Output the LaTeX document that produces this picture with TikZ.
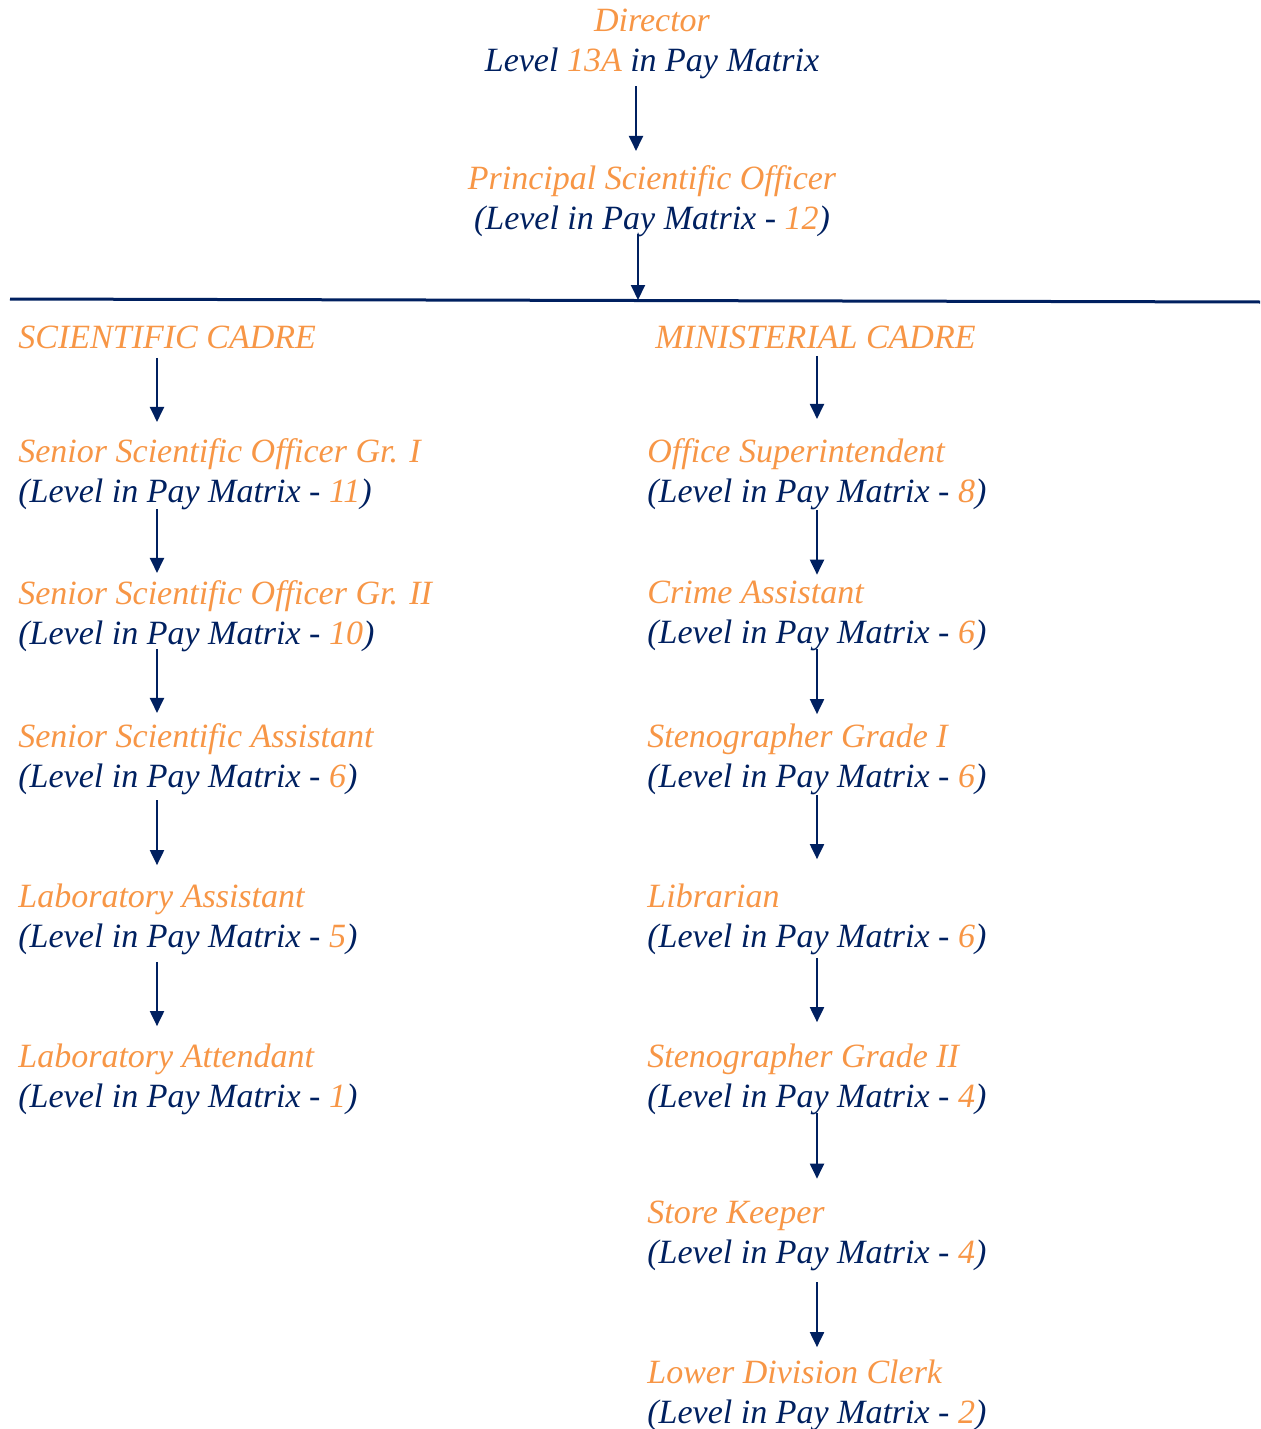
\documentclass[tikz,border=0pt]{standalone}
\usepackage{fontspec}
\setmainfont{Liberation Serif}
\usetikzlibrary{calc,arrows.meta}
\definecolor{org}{HTML}{F79646}
\definecolor{nvy}{HTML}{002060}
\newcommand\lvpm[1]{(Level in Pay Matrix - \textcolor{org}{#1})}
\newcommand\ttl[1]{\textcolor{org}{#1}}
\begin{document}
\begin{tikzpicture}[x=0.5pt,y=-0.5pt,
 lbl/.style={inner sep=0pt, anchor=west, align=left, font=\fontsize{17}{20}\selectfont\itshape, text=nvy},
 ctr/.style={lbl, anchor=center, align=center},
 arr/.style={draw=nvy, line width=1pt, -{Triangle[length=7.5pt,width=7pt]}}]
\useasboundingbox (0,0) rectangle (1260,1429);
% top
\node[ctr] (dir) at (652,44) {\ttl{Director}\\Level \ttl{13A} in Pay Matrix};
\node[ctr] (pso) at (652,201) {\ttl{Principal Scientific Officer}\\\lvpm{12}};
\coordinate (hlA) at (10,299);
\coordinate (hlB) at (1260,302);
\draw[nvy, line width=1.5pt] (hlA) -- (hlB);
\coordinate (hlM) at (638,300);
\coordinate (tc) at (636,0);
\coordinate (tc2) at (638,0);
\coordinate (cl) at (157,0);
\coordinate (cr) at (817,0);
% left column
\node[lbl] (sc) at (18,337) {\ttl{SCIENTIFIC CADRE}};
\node[lbl] (l1) at (18,474) {\ttl{Senior Scientific Officer Gr. I}\\\lvpm{11}};
\node[lbl] (l2) at (18,616) {\ttl{Senior Scientific Officer Gr. II}\\\lvpm{10}};
\node[lbl] (l3) at (18,759) {\ttl{Senior Scientific Assistant}\\\lvpm{6}};
\node[lbl] (l4) at (18,919) {\ttl{Laboratory Assistant}\\\lvpm{5}};
\node[lbl] (l5) at (18,1079) {\ttl{Laboratory Attendant}\\\lvpm{1}};
% right column
\node[lbl] (mc) at (655,337) {\ttl{MINISTERIAL CADRE}};
\node[lbl] (r1) at (647,474) {\ttl{Office Superintendent}\\\lvpm{8}};
\node[lbl] (r2) at (647,616) {\ttl{Crime Assistant}\\\lvpm{6}};
\node[lbl] (r3) at (647,759) {\ttl{Stenographer Grade I}\\\lvpm{6}};
\node[lbl] (r4) at (647,919) {\ttl{Librarian}\\\lvpm{6}};
\node[lbl] (r5) at (647,1079) {\ttl{Stenographer Grade II}\\\lvpm{4}};
\node[lbl] (r6) at (647,1236) {\ttl{Store Keeper}\\\lvpm{4}};
\node[lbl] (r7) at (647,1395) {\ttl{Lower Division Clerk}\\\lvpm{2}};
% arrows
\draw[arr] ($(tc |- dir.south)+(0,7)$) -- ($(tc |- pso.north)+(0,-14)$);
\draw[arr] ($(tc2 |- pso.south)+(0,-3)$) -- (hlM);
\draw[arr] ($(cl |- sc.south)+(0,9)$) -- ($(cl |- l1.north)+(0,-16)$);
\draw[arr] ($(cl |- l1.south)+(0,-1)$) -- ($(cl |- l2.north)+(0,-7)$);
\draw[arr] ($(cl |- l2.south)+(0,-3)$) -- ($(cl |- l3.north)+(0,-10)$);
\draw[arr] ($(cl |- l3.south)+(0,5)$) -- ($(cl |- l4.north)+(0,-18)$);
\draw[arr] ($(cl |- l4.south)+(0,7)$) -- ($(cl |- l5.north)+(0,-17)$);
\draw[arr] ($(cr |- mc.south)+(0,7)$) -- ($(cr |- r1.north)+(0,-19)$);
\draw[arr] ($(cr |- r1.south)+(0,0)$) -- ($(cr |- r2.north)+(0,-6)$);
\draw[arr] ($(cr |- r2.south)+(0,-2)$) -- ($(cr |- r3.north)+(0,-9)$);
\draw[arr] ($(cr |- r3.south)+(0,0)$) -- ($(cr |- r4.north)+(0,-24)$);
\draw[arr] ($(cr |- r4.south)+(0,3)$) -- ($(cr |- r5.north)+(0,-21)$);
\draw[arr] ($(cr |- r5.south)+(0,-2)$) -- ($(cr |- r6.north)+(0,-22)$);
\draw[arr] ($(cr |- r6.south)+(0,11)$) -- ($(cr |- r7.north)+(0,-12)$);
\end{tikzpicture}
\end{document}
